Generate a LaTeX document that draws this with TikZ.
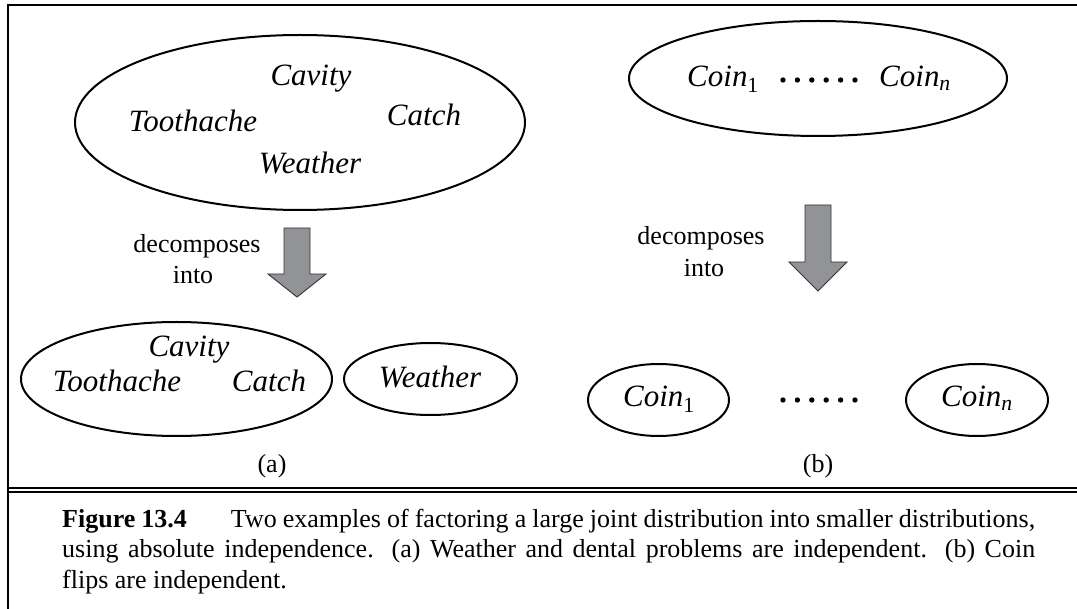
\documentclass[tikz,border=0pt]{standalone}
\usepackage{fontspec}
\setmainfont{Liberation Serif}
\usetikzlibrary{shapes.geometric}
\definecolor{arrowgray}{RGB}{146,147,151}
\begin{document}
\begin{tikzpicture}[x=1pt,y=-1pt,
  ell/.style={ellipse, draw, line width=2pt, inner sep=0pt},
  lab/.style={font=\fontsize{31}{36}\selectfont\itshape, inner sep=0pt, anchor=base},
  note/.style={font=\fontsize{26}{30}\selectfont, inner sep=0pt, anchor=base},
  bigarrow/.style={fill=arrowgray, draw=black!80, line width=0.9pt, line join=miter},
  frameline/.style={line width=2.2pt, line cap=butt},
  dotmark/.style={circle, fill=black, inner sep=0pt, minimum size=5.4pt}
]
\useasboundingbox (0,0) rectangle (1077,609);
\fill[white] (0,0) rectangle (1077,609);

% frame
\coordinate (tl) at (7,5);
\coordinate (tr) at (1077,5);
\coordinate (lt) at (8,3.9);
\coordinate (lb) at (8,609);
\coordinate (d1l) at (9,487.7);
\coordinate (d1r) at (1077,487.7);
\coordinate (d2l) at (9,491.7);
\coordinate (d2r) at (1077,491.7);
\draw[frameline] (tl) -- (tr);
\draw[frameline] (lt) -- (lb);
\draw[frameline] (d1l) -- (d1r);
\draw[frameline] (d2l) -- (d2r);

% ---------- (a) top ----------
\node[ell, minimum width=450pt, minimum height=175pt] (jointA) at (300,122.5) {};
\node[lab] (cavA) at (311,86) {Cavity};
\node[lab] (tooA) at (193,132) {Toothache};
\node[lab] (catA) at (424,126) {Catch};
\node[lab] (weaA) at (310,174) {Weather};

\node[note] (decA) at (197,253) {decomposes};
\node[note] (intoA) at (193,284) {into};
\draw[bigarrow] (284,228) -- (310,228) -- (310,274) -- (326,274) -- (297,297) -- (268,274) -- (284,274) -- cycle;

% ---------- (a) bottom ----------
\node[ell, minimum width=311pt, minimum height=114pt] (dentA) at (176.5,379) {};
\node[lab] (cavB) at (189,357) {Cavity};
\node[lab] (tooB) at (117,392) {Toothache};
\node[lab] (catB) at (269,392) {Catch};
\node[ell, minimum width=173pt, minimum height=72pt] (weaEll) at (430.5,379) {};
\node[lab] (weaB) at (430,388) {Weather};
\node[note] (capa) at (272,473) {(a)};

% ---------- (b) top ----------
\node[ell, minimum width=378pt, minimum height=115pt] (jointB) at (818,78.5) {};
\node[lab, anchor=base west] (c1top) at (687,87) {Coin\textsubscript{\upshape 1}};
\node[lab, anchor=base west] (cntop) at (879,87) {Coin\textsubscript{n}};
\foreach \i in {0,...,5} {
  \node[dotmark] (td\i) at ({783+14.4*\i},80) {};
}

\node[note] (decB) at (701,245) {decomposes};
\node[note] (intoB) at (704,277) {into};
\draw[bigarrow] (805,205) -- (831,205) -- (831,262) -- (847,262) -- (818,291) -- (789,262) -- (805,262) -- cycle;

% ---------- (b) bottom ----------
\node[ell, minimum width=141pt, minimum height=72pt] (coin1) at (658.5,400) {};
\node[lab] (c1b) at (659,407) {Coin\textsubscript{\upshape 1}};
\node[ell, minimum width=142pt, minimum height=72pt] (coinn) at (977,400) {};
\node[lab] (cnb) at (977,407) {Coin\textsubscript{n}};
\foreach \i in {0,...,5} {
  \node[dotmark] (bd\i) at ({783+14.4*\i},400) {};
}
\node[note] (capb) at (818,473) {(b)};

% ---------- caption ----------
\node[note, anchor=base west] (cap1) at (62,528) {\makebox[973pt][s]{\textbf{Figure 13.4}\hspace{44pt}Two examples of factoring a large joint distribution into smaller distributions,}};
\node[note, anchor=base west] (cap2) at (62,558) {\makebox[973pt][s]{using absolute independence.  (a) Weather and dental problems are independent.  (b) Coin}};
\node[note, anchor=base west] (cap3) at (62,588) {flips are independent.};
\end{tikzpicture}
\end{document}
